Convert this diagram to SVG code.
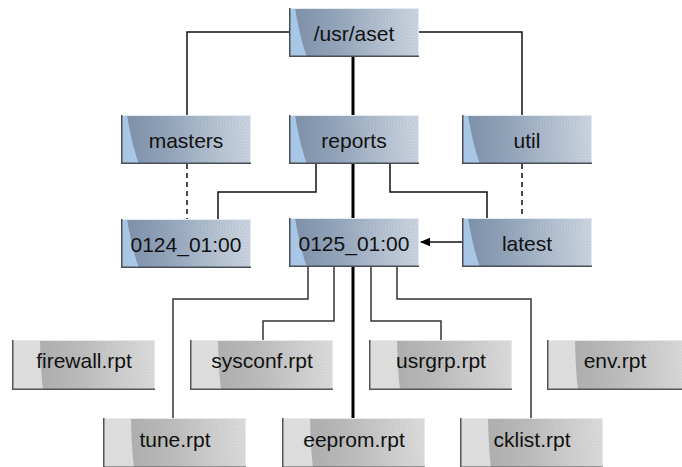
<svg xmlns="http://www.w3.org/2000/svg" xmlns:xlink="http://www.w3.org/1999/xlink" width="682" height="467" viewBox="0 0 682 467">
  <defs>
    <style>
      .lbl { font-family: "Liberation Sans", Arial, Helvetica, sans-serif; font-size: 21px; fill: #111; text-anchor: middle; }
      .wire { fill: none; stroke: #111; stroke-width: 1.5; }
      .wire-leaf { fill: none; stroke: #333; stroke-width: 1.5; }
      .spine { fill: none; stroke: #000; stroke-width: 3; }
      .dash { fill: none; stroke: #111; stroke-width: 1.5; stroke-dasharray: 5 4; }
    </style>

    <!-- directory box: steel-blue body -->
    <linearGradient id="blueBody" gradientUnits="userSpaceOnUse" x1="0" y1="0" x2="130" y2="0">
      <stop offset="0" stop-color="#7b8ea7"/>
      <stop offset="0.45" stop-color="#97a8bd"/>
      <stop offset="1" stop-color="#c4cedb"/>
    </linearGradient>
    <!-- file box: grey body -->
    <linearGradient id="greyBody" gradientUnits="userSpaceOnUse" x1="0" y1="0" x2="143" y2="0">
      <stop offset="0" stop-color="#a6a6a6"/>
      <stop offset="0.5" stop-color="#bababa"/>
      <stop offset="1" stop-color="#d6d6d6"/>
    </linearGradient>

    <!-- concentric ring texture in the upper right corner -->
    <radialGradient id="ringsBlue" gradientUnits="userSpaceOnUse" cx="122" cy="9" r="3" spreadMethod="repeat">
      <stop offset="0" stop-color="#ffffff" stop-opacity="0"/>
      <stop offset="0.5" stop-color="#ffffff" stop-opacity="0.2"/>
      <stop offset="1" stop-color="#ffffff" stop-opacity="0"/>
    </radialGradient>
    <radialGradient id="ringsGrey" gradientUnits="userSpaceOnUse" cx="135" cy="9" r="3" spreadMethod="repeat">
      <stop offset="0" stop-color="#ffffff" stop-opacity="0"/>
      <stop offset="0.5" stop-color="#ffffff" stop-opacity="0.18"/>
      <stop offset="1" stop-color="#ffffff" stop-opacity="0"/>
    </radialGradient>
    <radialGradient id="fadeBlue" gradientUnits="userSpaceOnUse" cx="122" cy="9" r="85">
      <stop offset="0" stop-color="#fff"/>
      <stop offset="1" stop-color="#000"/>
    </radialGradient>
    <radialGradient id="fadeGrey" gradientUnits="userSpaceOnUse" cx="135" cy="9" r="90">
      <stop offset="0" stop-color="#fff"/>
      <stop offset="1" stop-color="#000"/>
    </radialGradient>
    <mask id="maskBlue" maskUnits="userSpaceOnUse" x="0" y="0" width="130" height="49">
      <rect width="130" height="49" fill="url(#fadeBlue)"/>
    </mask>
    <mask id="maskGrey" maskUnits="userSpaceOnUse" x="0" y="0" width="143" height="50">
      <rect width="143" height="50" fill="url(#fadeGrey)"/>
    </mask>

    <marker id="arrowHead" viewBox="0 0 10 10" refX="9" refY="5" markerWidth="10" markerHeight="10" markerUnits="userSpaceOnUse" orient="auto">
      <path d="M0,0.8 L10,5 L0,9.2 Z" fill="#000"/>
    </marker>

    <!-- directory box, 130 x 49 -->
    <g id="blueBox">
      <rect width="130" height="49" fill="url(#blueBody)"/>
      <rect width="130" height="49" fill="url(#ringsBlue)" mask="url(#maskBlue)"/>
      <path d="M0,0 H6 C9,18 13,36 18,49 H0 Z" fill="#a8c7e7"/>
      <path d="M0.5,49 V0.5 H129.5 V49" fill="none" stroke="#e4eaf1" stroke-width="1"/>
      <path d="M0.75,0 V48.25 H130" fill="none" stroke="#4a4f55" stroke-width="1.5"/>
    </g>
    <!-- file box, 143 x 50 -->
    <g id="greyBox">
      <rect width="143" height="50" fill="url(#greyBody)"/>
      <rect width="143" height="50" fill="url(#ringsGrey)" mask="url(#maskGrey)"/>
      <path d="M0,0 H28 C28.5,18 29,34 31,50 H0 Z" fill="#dcdcdc"/>
      <path d="M0.5,50 V0.5 H142.5 V50" fill="none" stroke="#e8e8e8" stroke-width="1"/>
      <path d="M0.75,0 V49.25 H143" fill="none" stroke="#555" stroke-width="1.5"/>
    </g>
  </defs>

  <rect width="682" height="467" fill="#fff"/>

  <!-- connectors -->
  <g id="connectors">
    <path class="wire" d="M289,32 H187 V115"/>
    <path class="wire" d="M419,32 H522 V115"/>
    <path class="spine" d="M353,57 V418"/>
    <path class="dash" d="M187,164 V219"/>
    <path class="dash" d="M522,164 V218"/>
    <path class="wire" d="M316,164 V192 H218 V219"/>
    <path class="wire" d="M390,164 V192 H487 V218"/>
    <path class="wire" d="M462,242 H421" marker-end="url(#arrowHead)"/>
    <path class="wire-leaf" d="M308,267 V299 H173 V418"/>
    <path class="wire-leaf" d="M334,267 V321 H263 V340"/>
    <path class="wire-leaf" d="M371,267 V321 H441 V340"/>
    <path class="wire-leaf" d="M397,267 V299 H531 V418"/>
  </g>

  <!-- directories -->
  <g id="node-usr-aset" transform="translate(289,8)">
    <use xlink:href="#blueBox"/>
    <text class="lbl" x="65" y="32.5">/usr/aset</text>
  </g>
  <g id="node-masters" transform="translate(121,115)">
    <use xlink:href="#blueBox"/>
    <text class="lbl" x="65" y="32.5">masters</text>
  </g>
  <g id="node-reports" transform="translate(289,115)">
    <use xlink:href="#blueBox"/>
    <text class="lbl" x="65" y="32.5">reports</text>
  </g>
  <g id="node-util" transform="translate(462,115)">
    <use xlink:href="#blueBox"/>
    <text class="lbl" x="65" y="32.5">util</text>
  </g>
  <g id="node-0124" transform="translate(121,219)">
    <use xlink:href="#blueBox"/>
    <text class="lbl" x="65" y="32.5">0124_01:00</text>
  </g>
  <g id="node-0125" transform="translate(289,218)">
    <use xlink:href="#blueBox"/>
    <text class="lbl" x="65" y="32.5">0125_01:00</text>
  </g>
  <g id="node-latest" transform="translate(462,218)">
    <use xlink:href="#blueBox"/>
    <text class="lbl" x="65" y="32.5">latest</text>
  </g>

  <!-- report files -->
  <g id="node-firewall" transform="translate(12,340)">
    <use xlink:href="#greyBox"/>
    <text class="lbl" x="72" y="28">firewall.rpt</text>
  </g>
  <g id="node-sysconf" transform="translate(190,340)">
    <use xlink:href="#greyBox"/>
    <text class="lbl" x="72" y="28">sysconf.rpt</text>
  </g>
  <g id="node-usrgrp" transform="translate(369,340)">
    <use xlink:href="#greyBox"/>
    <text class="lbl" x="72" y="28">usrgrp.rpt</text>
  </g>
  <g id="node-env" transform="translate(547,340)">
    <use xlink:href="#greyBox"/>
    <text class="lbl" x="68" y="28">env.rpt</text>
  </g>
  <g id="node-tune" transform="translate(103,418)">
    <use xlink:href="#greyBox"/>
    <text class="lbl" x="72" y="28.5">tune.rpt</text>
  </g>
  <g id="node-eeprom" transform="translate(282,418)">
    <use xlink:href="#greyBox"/>
    <text class="lbl" x="72" y="28.5">eeprom.rpt</text>
  </g>
  <g id="node-cklist" transform="translate(460,418)">
    <use xlink:href="#greyBox"/>
    <text class="lbl" x="72" y="28.5">cklist.rpt</text>
  </g>
</svg>
